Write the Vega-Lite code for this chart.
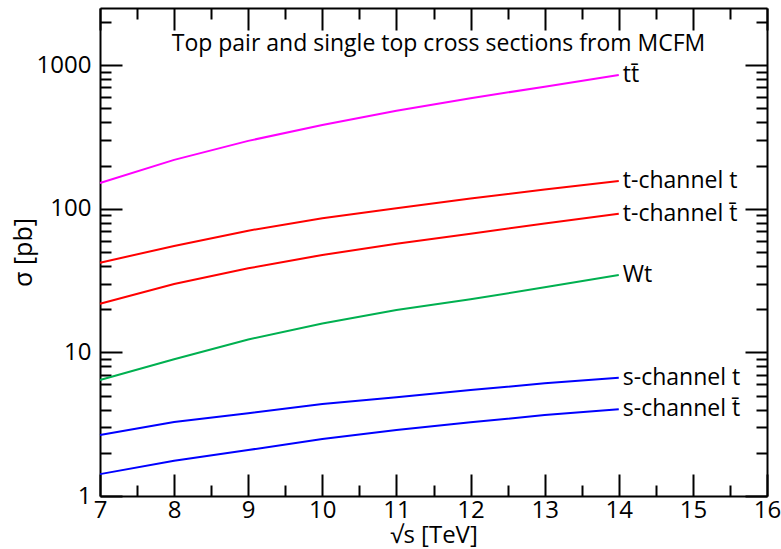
{
  "$schema": "https://vega.github.io/schema/vega-lite/v6.json",
  "autosize": "none",
  "width": 667,
  "height": 488,
  "padding": {"left": 100, "top": 8, "right": 14, "bottom": 53},
  "background": "white",
  "config": {
    "view": {"stroke": null},
    "font": "Open Sans",
    "axis": {
      "grid": false,
      "zindex": 1,
      "domainColor": "black",
      "domainWidth": 2,
      "tickColor": "black",
      "tickWidth": 2,
      "tickSize": -22,
      "labelColor": "black",
      "titleColor": "black",
      "labelFont": "Open Sans",
      "titleFont": "Open Sans",
      "labelFontSize": 24,
      "titleFontSize": 24,
      "titleFontWeight": "normal",
      "labelOverlap": false,
      "labelFlush": false
    }
  },
  "title": {
    "text": "Top pair and single top cross sections from MCFM",
    "font": "Open Sans",
    "fontSize": 23,
    "fontWeight": "normal",
    "color": "black",
    "anchor": "middle",
    "baseline": "alphabetic",
    "offset": -67,
    "dx": 5
  },
  "data": {
    "values": [
      {"series": "tt\u0304", "s": 7, "sigma": 151},
      {"series": "tt\u0304", "s": 8, "sigma": 219},
      {"series": "tt\u0304", "s": 9, "sigma": 297},
      {"series": "tt\u0304", "s": 10, "sigma": 383},
      {"series": "tt\u0304", "s": 11, "sigma": 482},
      {"series": "tt\u0304", "s": 12, "sigma": 589},
      {"series": "tt\u0304", "s": 13, "sigma": 708},
      {"series": "tt\u0304", "s": 14, "sigma": 855},
      {"series": "t-channel t", "s": 7, "sigma": 42.1},
      {"series": "t-channel t", "s": 8, "sigma": 55.1},
      {"series": "t-channel t", "s": 9, "sigma": 70.4},
      {"series": "t-channel t", "s": 10, "sigma": 85.9},
      {"series": "t-channel t", "s": 11, "sigma": 101},
      {"series": "t-channel t", "s": 12, "sigma": 118},
      {"series": "t-channel t", "s": 13, "sigma": 136},
      {"series": "t-channel t", "s": 14, "sigma": 156},
      {"series": "t-channel t\u0304", "s": 7, "sigma": 21.8},
      {"series": "t-channel t\u0304", "s": 8, "sigma": 29.9},
      {"series": "t-channel t\u0304", "s": 9, "sigma": 38.5},
      {"series": "t-channel t\u0304", "s": 10, "sigma": 47.7},
      {"series": "t-channel t\u0304", "s": 11, "sigma": 57},
      {"series": "t-channel t\u0304", "s": 12, "sigma": 67},
      {"series": "t-channel t\u0304", "s": 13, "sigma": 79},
      {"series": "t-channel t\u0304", "s": 14, "sigma": 92.4},
      {"series": "Wt", "s": 7, "sigma": 6.42},
      {"series": "Wt", "s": 8, "sigma": 8.95},
      {"series": "Wt", "s": 9, "sigma": 12.3},
      {"series": "Wt", "s": 10, "sigma": 15.9},
      {"series": "Wt", "s": 11, "sigma": 19.7},
      {"series": "Wt", "s": 12, "sigma": 23.4},
      {"series": "Wt", "s": 13, "sigma": 28.4},
      {"series": "Wt", "s": 14, "sigma": 34.6},
      {"series": "s-channel t", "s": 7, "sigma": 2.66},
      {"series": "s-channel t", "s": 8, "sigma": 3.28},
      {"series": "s-channel t", "s": 9, "sigma": 3.77},
      {"series": "s-channel t", "s": 10, "sigma": 4.37},
      {"series": "s-channel t", "s": 11, "sigma": 4.87},
      {"series": "s-channel t", "s": 12, "sigma": 5.47},
      {"series": "s-channel t", "s": 13, "sigma": 6.09},
      {"series": "s-channel t", "s": 14, "sigma": 6.67},
      {"series": "s-channel t\u0304", "s": 7, "sigma": 1.42},
      {"series": "s-channel t\u0304", "s": 8, "sigma": 1.76},
      {"series": "s-channel t\u0304", "s": 9, "sigma": 2.09},
      {"series": "s-channel t\u0304", "s": 10, "sigma": 2.49},
      {"series": "s-channel t\u0304", "s": 11, "sigma": 2.88},
      {"series": "s-channel t\u0304", "s": 12, "sigma": 3.26},
      {"series": "s-channel t\u0304", "s": 13, "sigma": 3.66},
      {"series": "s-channel t\u0304", "s": 14, "sigma": 4.02}
    ]
  },
  "resolve": {"axis": {"x": "independent", "y": "independent"}},
  "layer": [
    {
      "mark": {"type": "line", "strokeWidth": 2},
      "encoding": {
        "x": {
          "field": "s", "type": "quantitative",
          "scale": {"domain": [7, 16], "nice": false, "zero": false},
          "axis": {
            "orient": "bottom",
            "title": "\u221as [TeV]",
            "titleFontSize": 24,
            "titlePadding": 1,
            "values": [7, 7.5, 8, 8.5, 9, 9.5, 10, 10.5, 11, 11.5, 12, 12.5, 13, 13.5, 14, 14.5, 15, 15.5, 16],
            "labelExpr": "datum.value % 1 == 0 ? '' + datum.value : ''",
            "labelPadding": 24,
            "tickDash": {"condition": {"test": "datum.value % 1 != 0", "value": [11, 40]}, "value": [40, 0]}
          }
        },
        "y": {
          "field": "sigma", "type": "quantitative",
          "scale": {"type": "log", "domain": [1, 2500], "nice": false},
          "axis": {
            "orient": "left",
            "title": "\u03c3 [pb]",
            "titleFontSize": 25,
            "titlePadding": 0,
            "tickSize": -22,
            "values": [1, 2, 3, 4, 5, 6, 7, 8, 9, 10, 20, 30, 40, 50, 60, 70, 80, 90, 100, 200, 300, 400, 500, 600, 700, 800, 900, 1000, 2000],
            "labelExpr": "(datum.value == 1 || datum.value == 10 || datum.value == 100 || datum.value == 1000) ? '' + datum.value : ''",
            "labelPadding": 31,
            "tickDash": {"condition": {"test": "!(datum.value == 1 || datum.value == 10 || datum.value == 100 || datum.value == 1000)", "value": [11, 40]}, "value": [40, 0]}
          }
        },
        "color": {
          "field": "series", "type": "nominal", "legend": null,
          "scale": {
            "domain": ["tt\u0304", "t-channel t", "t-channel t\u0304", "Wt", "s-channel t", "s-channel t\u0304"],
            "range": ["#ff00ff", "#ff0000", "#ff0000", "#00b050", "#0000ff", "#0000ff"]
          }
        }
      }
    },
    {
      "transform": [{"filter": "datum.s == 14"}],
      "mark": {"type": "text", "align": "left", "baseline": "middle", "dx": 4, "fontSize": 23, "font": "Open Sans", "color": "black"},
      "encoding": {
        "x": {
          "field": "s", "type": "quantitative",
          "axis": {
            "orient": "top",
            "title": null,
            "labels": false,
            "values": [7, 7.5, 8, 8.5, 9, 9.5, 10, 10.5, 11, 11.5, 12, 12.5, 13, 13.5, 14, 14.5, 15, 15.5, 16],
            "tickDash": {"condition": {"test": "datum.value % 1 != 0", "value": [11, 40]}, "value": [40, 0]}
          }
        },
        "y": {
          "field": "sigma", "type": "quantitative",
          "axis": {
            "orient": "right",
            "title": null,
            "labels": false,
            "tickSize": -22,
            "values": [1, 2, 3, 4, 5, 6, 7, 8, 9, 10, 20, 30, 40, 50, 60, 70, 80, 90, 100, 200, 300, 400, 500, 600, 700, 800, 900, 1000, 2000],
            "tickDash": {"condition": {"test": "!(datum.value == 1 || datum.value == 10 || datum.value == 100 || datum.value == 1000)", "value": [11, 40]}, "value": [40, 0]}
          }
        },
        "text": {"field": "series", "type": "nominal"}
      }
    }
  ]
}
